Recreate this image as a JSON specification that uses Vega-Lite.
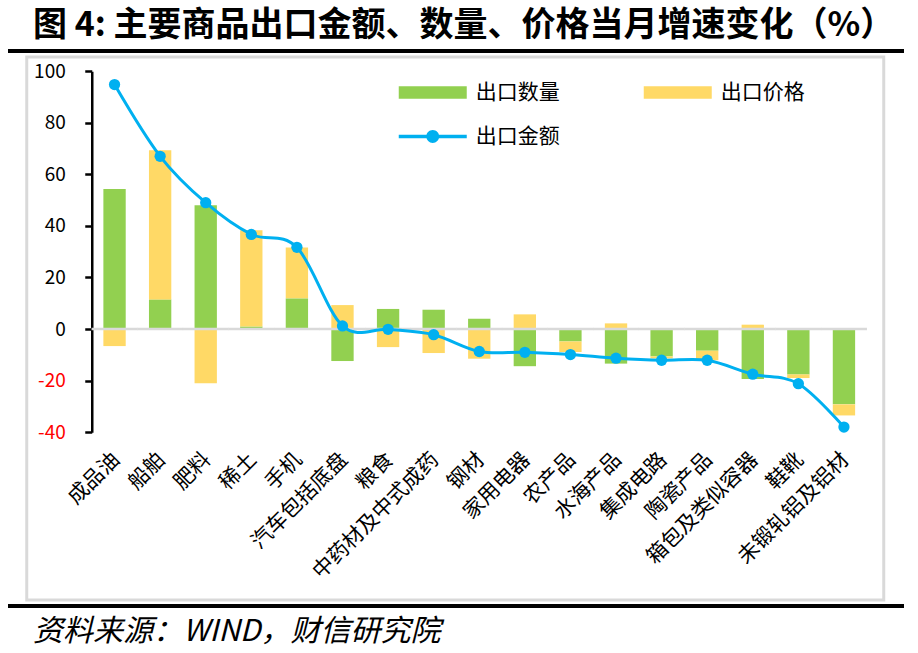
{
  "$schema": "https://vega.github.io/schema/vega-lite/v6.json",
  "background": "white",
  "padding": {"left": 8, "top": 9, "right": 0, "bottom": 0},
  "title": {
    "text": "图 4: 主要商品出口金额、数量、价格当月增速变化（%）",
    "anchor": "start",
    "dx": 25,
    "fontSize": 34,
    "font": "Noto Sans CJK SC",
    "fontWeight": "bold",
    "color": "#000000",
    "offset": 6
  },
  "spacing": 2,
  "center": true,
  "resolve": {"scale": {"color": "independent"}, "legend": {"color": "independent"}},
  "vconcat": [
    {
      "width": 896,
      "height": 4,
      "view": {"fill": "#000000", "stroke": null},
      "data": {"values": []},
      "mark": "rule",
      "encoding": {}
    },
    {
      "width": 857,
      "height": 543,
      "view": {"stroke": "#D9D9D9", "strokeWidth": 3},
      "data": {
        "values": [
          {"商品": "成品油", "出口数量": 54.3, "出口价格": -6.6, "出口金额": 94.8},
          {"商品": "船舶", "出口数量": 11.5, "出口价格": 57.8, "出口金额": 67.0},
          {"商品": "肥料", "出口数量": 48.0, "出口价格": -21.0, "出口金额": 49.0},
          {"商品": "稀土", "出口数量": 1.0, "出口价格": 37.3, "出口金额": 36.7},
          {"商品": "手机", "出口数量": 11.9, "出口价格": 19.7, "出口金额": 31.7},
          {"商品": "汽车包括底盘", "出口数量": -12.4, "出口价格": 9.3, "出口金额": 1.2},
          {"商品": "粮食", "出口数量": 7.8, "出口价格": -7.0, "出口金额": -0.1},
          {"商品": "中药材及中式成药", "出口数量": 7.5, "出口价格": -9.3, "出口金额": -2.2},
          {"商品": "钢材", "出口数量": 4.0, "出口价格": -11.5, "出口金额": -8.7},
          {"商品": "家用电器", "出口数量": -14.4, "出口价格": 5.7, "出口金额": -9.0},
          {"商品": "农产品", "出口数量": -4.8, "出口价格": -4.1, "出口金额": -9.9},
          {"商品": "水海产品", "出口数量": -13.4, "出口价格": 2.2, "出口金额": -11.3},
          {"商品": "集成电路", "出口数量": -10.6, "出口价格": -0.8, "出口金额": -12.1},
          {"商品": "陶瓷产品", "出口数量": -8.4, "出口价格": -3.7, "出口金额": -12.1},
          {"商品": "箱包及类似容器", "出口数量": -19.4, "出口价格": 1.7, "出口金额": -17.5},
          {"商品": "鞋靴", "出口数量": -17.6, "出口价格": -1.4, "出口金额": -21.2},
          {"商品": "未锻轧铝及铝材", "出口数量": -29.2, "出口价格": -4.3, "出口金额": -38.0}
        ]
      },
      "encoding": {
        "x": {
          "field": "商品",
          "type": "nominal",
          "sort": null,
          "scale": {"range": [65, 840], "paddingInner": 0.51, "paddingOuter": 0.255},
          "axis": {
            "title": null,
            "orient": "bottom",
            "offset": -167.8,
            "domain": false,
            "ticks": false,
            "labelAngle": -45,
            "labelAlign": "right",
            "labelBaseline": "middle",
            "labelPadding": 24,
            "labelOffset": 2,
            "labelFont": "Noto Sans CJK SC",
            "labelFontSize": 21,
            "labelColor": "#000000",
            "labelOverlap": false,
            "labelLimit": 0,
            "grid": false
          }
        }
      },
      "layer": [
        {
          "transform": [{"fold": ["出口数量", "出口价格"], "as": ["指标", "增速"]}],
          "mark": {"type": "bar"},
          "encoding": {
            "y": {
              "field": "增速",
              "type": "quantitative",
              "stack": "zero",
              "scale": {"domain": [-40, 100], "range": [375.2, 14.2], "nice": false, "zero": false},
              "axis": {
                "title": null,
                "orient": "left",
                "offset": -65,
                "values": [-40, -20, 0, 20, 40, 60, 80, 100],
                "labelExpr": "'' + datum.value",
                "domain": true,
                "domainColor": "#000000",
                "domainWidth": 2.5,
                "ticks": true,
                "tickColor": "#000000",
                "tickWidth": 2.5,
                "tickSize": 7,
                "labelPadding": 19.5,
                "labelFont": "Noto Sans CJK SC",
                "labelFontSize": 19,
                "labelColor": {"condition": {"test": "datum.value < 0", "value": "#FF0000"}, "value": "#000000"},
                "labelFlush": false,
                "labelOverlap": false,
                "grid": false
              }
            },
            "color": {
              "field": "指标",
              "type": "nominal",
              "scale": {"domain": ["出口数量", "出口金额", "出口价格"], "range": ["#92D050", "#00B0F0", "#FFD966"]},
              "legend": {
                "title": null,
                "orient": "none",
                "legendX": 372,
                "legendY": 1.5,
                "columns": 2,
                "columnPadding": 84,
                "rowPadding": 0,
                "padding": 0,
                "symbolSize": 4624,
                "symbolType": "M-1,-0.187H1V0.187H-1Z",
                "symbolStrokeWidth": 0,
                "symbolOpacity": 1,
                "labelFont": "Noto Sans CJK SC",
                "labelFontSize": 21,
                "labelColor": "#000000",
                "labelOffset": 9,
                "labelLimit": 0,
                "encode": {
                  "symbols": {
                    "update": {
                      "shape": {"signal": "datum.value === '出口金额' ? 'M-1,-0.05H1V0.05H-1Z M0.19,0A0.19,0.19,0,1,1,-0.19,0A0.19,0.19,0,1,1,0.19,0Z' : 'M-1,-0.187H1V0.187H-1Z'"}
                    }
                  }
                }
              }
            },
            "order": {"field": "指标", "sort": "descending"}
          }
        },
        {
          "mark": {"type": "tick", "color": "#D9D9D9", "thickness": 2.5, "size": 46, "orient": "horizontal", "opacity": 1},
          "encoding": {
            "y": {
              "datum": 0,
              "type": "quantitative",
              "scale": {"domain": [-40, 100], "range": [375.2, 14.2], "nice": false, "zero": false}
            }
          }
        },
        {
          "mark": {"type": "line", "color": "#00B0F0", "strokeWidth": 3, "interpolate": "cardinal"},
          "encoding": {
            "y": {
              "field": "出口金额",
              "type": "quantitative",
              "scale": {"domain": [-40, 100], "range": [375.2, 14.2], "nice": false, "zero": false}
            }
          }
        },
        {
          "mark": {"type": "point", "filled": true, "color": "#00B0F0", "size": 127, "opacity": 1},
          "encoding": {
            "y": {
              "field": "出口金额",
              "type": "quantitative",
              "scale": {"domain": [-40, 100], "range": [375.2, 14.2], "nice": false, "zero": false}
            }
          }
        }
      ]
    },
    {
      "width": 896,
      "height": 4,
      "view": {"fill": "#000000", "stroke": null},
      "title": {
        "text": "资料来源：WIND，财信研究院",
        "orient": "bottom",
        "anchor": "start",
        "dx": 25,
        "offset": 9,
        "fontSize": 30,
        "font": "Noto Sans CJK SC",
        "fontStyle": "italic",
        "fontWeight": "normal",
        "color": "#000000"
      },
      "data": {"values": []},
      "mark": "rule",
      "encoding": {}
    }
  ]
}
